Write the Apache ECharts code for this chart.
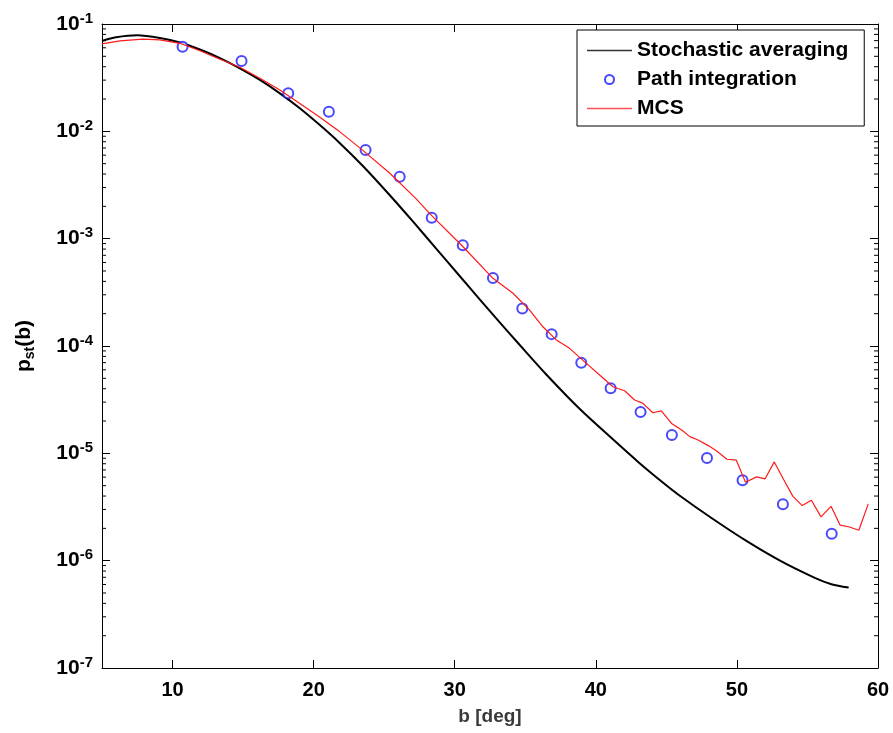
<!DOCTYPE html>
<html>
<head>
<meta charset="utf-8">
<script src="https://cdn.jsdelivr.net/npm/echarts@6/dist/echarts.min.js"></script>
<style>
  html, body { margin: 0; padding: 0; background: #fff; }
  #main { width: 893px; height: 733px; }
</style>
</head>
<body>
<div id="main"></div>
<script>
// stochastic averaging (black curve)
var saB = [5, 6, 7.5, 9.11, 10.52, 11.94, 13.36, 14.77, 16.19, 17.61, 19.02, 20.44, 21.86, 23.51, 25.4,
  27.05, 28.7, 30.35, 31.77, 33.19, 34.5, 36.49, 38.85, 41.21, 43, 44.75, 45.93, 48.33, 50.73, 53.12,
  55.52, 56.7, 57.92];
var saP = [0.0695, 0.0752, 0.0785, 0.0741, 0.0673, 0.0578, 0.0481, 0.0386, 0.0301, 0.0226, 0.0164,
  0.01143, 0.00776, 0.00473, 0.00254, 0.00144, 0.000804, 0.000449, 0.000272, 0.000166, 0.000106,
  5.43e-5, 2.60e-5, 1.35e-5, 8.32e-6, 5.35e-6, 4.05e-6, 2.43e-6, 1.51e-6, 9.89e-7, 6.92e-7, 6.04e-7, 5.62e-7];

// path integration (blue circles)
var piB = [10.71, 14.89, 18.2, 21.08, 23.68, 26.1, 28.37, 30.57, 32.71, 34.79, 36.87, 38.97, 41.05, 43.17,
  45.39, 47.88, 50.4, 53.26, 56.72];
var piP = [0.0615, 0.0452, 0.0226, 0.0152, 0.0067, 0.00378, 0.00157, 0.000867, 0.00043, 2.24e-4, 1.29e-4,
  6.98e-5, 4.04e-5, 2.43e-5, 1.48e-5, 9.06e-6, 5.61e-6, 3.36e-6, 1.78e-6];

// MCS (red line)
var mcsB = [5, 6.27, 7.9, 9.11, 10.52, 11.94, 13.36, 14.77, 16.19, 17.61, 19.02, 20.44, 21.86, 23.51, 25.4,
  27.2, 28.37, 30.59, 32.71, 34.13, 35.31, 36.25, 37.2, 38.14, 39.33, 40.27, 41.21, 42.04, 42.75, 43.34,
  44.04, 44.64, 45.37, 46.11, 46.66, 47.25, 47.97, 48.57, 49.29, 49.96, 50.61, 51.4, 52.0, 52.65, 53.31,
  53.97, 54.63, 55.28, 55.96, 56.67, 57.32, 57.97, 58.64, 59.31];
var mcsP = [0.0652, 0.0695, 0.0724, 0.071, 0.0661, 0.0564, 0.0469, 0.0395, 0.0312, 0.0243, 0.0182, 0.0135,
  0.00989, 0.00661, 0.00407, 0.0024, 0.00164, 0.000841, 0.000427, 3.10e-4, 2.16e-4, 1.51e-4, 1.14e-4,
  9.51e-5, 6.89e-5, 5.36e-5, 4.17e-5, 3.83e-5, 3.14e-5, 2.92e-5, 2.39e-5, 2.49e-5, 1.90e-5, 1.64e-5,
  1.43e-5, 1.33e-5, 1.18e-5, 1.05e-5, 8.81e-6, 8.63e-6, 5.38e-6, 6.04e-6, 5.79e-6, 8.32e-6, 5.70e-6,
  3.97e-6, 3.26e-6, 3.66e-6, 2.56e-6, 3.21e-6, 2.14e-6, 2.06e-6, 1.92e-6, 3.38e-6];

// axes
var xMin = 5, xMax = 60;
var yMin = 1e-7, yMax = 1e-1;
var minorMults = [2, 3, 4, 5, 6, 7, 8, 9];
var decades = [-7, -6, -5, -4, -3, -2];

function zip(a, b) {
  var out = [];
  for (var i = 0; i < a.length; i++) out.push([a[i], b[i]]);
  return out;
}

var minorTicks = [];
decades.forEach(function (d) {
  minorMults.forEach(function (m) {
    minorTicks.push([xMin, m * Math.pow(10, d)]);
  });
});

var FONT = '"Liberation Sans", Arial, Helvetica, sans-serif';
var LINE_ICON = 'path://M0,0 L45,0 L45,1.3 L0,1.3 Z';

var chart = echarts.init(document.getElementById('main'), null, { renderer: 'canvas' });

var yLabel = {
  fontFamily: FONT,
  fontWeight: 'bold',
  color: '#000',
  margin: 9,
  formatter: function (v) {
    var e = Math.round(Math.log10(v));
    return '{b|10}{e|' + e + '}';
  },
  rich: {
    b: { fontFamily: FONT, fontWeight: 'bold', fontSize: 21, color: '#000', lineHeight: 26 },
    e: { fontFamily: FONT, fontWeight: 'bold', fontSize: 15, color: '#000', verticalAlign: 'top', lineHeight: 17 }
  }
};

var option = {
  animation: false,
  backgroundColor: '#fff',
  grid: { left: 102, right: 15, top: 24, bottom: 65 },
  legend: {
    orient: 'vertical',
    left: 577,
    top: 30,
    padding: [9, 16, 6, 10],
    itemGap: 6,
    itemWidth: 45,
    itemHeight: 9,
    borderColor: '#000',
    borderWidth: 1,
    borderRadius: 0,
    backgroundColor: '#fff',
    data: [
      { name: 'Stochastic averaging', icon: LINE_ICON, itemStyle: { color: '#333' } },
      { name: 'Path integration' },
      { name: 'MCS', icon: LINE_ICON, itemStyle: { color: '#ff5050' } }
    ],
    textStyle: { fontFamily: FONT, fontWeight: 'bold', fontSize: 21, color: '#000', lineHeight: 23 }
  },
  xAxis: [{
    type: 'value',
    min: xMin,
    max: xMax,
    splitNumber: 6,
    name: 'b [deg]',
    nameLocation: 'middle',
    nameGap: 39,
    nameTextStyle: { fontFamily: FONT, fontWeight: 'bold', fontSize: 19, color: '#3a3a3a' },
    axisLine: { lineStyle: { color: '#000', width: 1 } },
    axisTick: { inside: true, length: 8, lineStyle: { color: '#000' } },
    axisLabel: { showMinLabel: false, fontFamily: FONT, fontWeight: 'bold', fontSize: 20, color: '#000', margin: 12 },
    splitLine: { show: false }
  }, {
    type: 'value',
    position: 'top',
    min: xMin,
    max: xMax,
    splitNumber: 6,
    axisLine: { lineStyle: { color: '#000', width: 1 } },
    axisTick: { inside: true, length: 8, lineStyle: { color: '#000' } },
    axisLabel: { show: false },
    splitLine: { show: false }
  }],
  yAxis: [{
    type: 'log',
    min: yMin,
    max: yMax,
    logBase: 10,
    name: '{p|p}{s|st}{p|(b)}',
    nameLocation: 'middle',
    nameRotate: 90,
    nameGap: 65,
    nameTextStyle: {
      rich: {
        p: { fontFamily: FONT, fontWeight: 'bold', fontSize: 21, color: '#000', lineHeight: 26 },
        s: { fontFamily: FONT, fontWeight: 'bold', fontSize: 14, color: '#000', verticalAlign: 'bottom', lineHeight: 16 }
      }
    },
    axisLine: { lineStyle: { color: '#000', width: 1 } },
    axisTick: { inside: true, length: 8, lineStyle: { color: '#000' } },
    axisLabel: yLabel,
    splitLine: { show: false }
  }, {
    type: 'log',
    position: 'right',
    min: yMin,
    max: yMax,
    logBase: 10,
    axisLine: { lineStyle: { color: '#000', width: 1 } },
    axisTick: { inside: true, length: 8, lineStyle: { color: '#000' } },
    axisLabel: { show: false },
    splitLine: { show: false }
  }],
  series: [{
    name: 'Stochastic averaging',
    type: 'line',
    data: zip(saB, saP),
    symbol: 'none',
    smooth: 0.3,
    lineStyle: { color: '#000', width: 2 },
    itemStyle: { color: '#000' },
    z: 3
  }, {
    name: 'Path integration',
    type: 'scatter',
    data: zip(piB, piP),
    symbol: 'emptyCircle',
    symbolSize: 10,
    itemStyle: { color: '#1a1aff', borderColor: '#1a1aff', borderWidth: 1.5 },
    z: 4
  }, {
    name: 'MCS',
    type: 'line',
    data: zip(mcsB, mcsP),
    symbol: 'none',
    lineStyle: { color: '#ff1a1a', width: 1.2 },
    itemStyle: { color: '#ff1a1a' },
    z: 5
  }, {
    // minor log ticks on the left and right edges
    name: 'minor',
    type: 'custom',
    silent: true,
    data: minorTicks,
    renderItem: function (params, api) {
      var p = api.coord([xMin, api.value(1)]);
      var q = api.coord([xMax, api.value(1)]);
      var st = { stroke: '#000', lineWidth: 1 };
      return {
        type: 'group',
        children: [
          { type: 'line', shape: { x1: p[0], y1: p[1], x2: p[0] + 4, y2: p[1] }, style: st },
          { type: 'line', shape: { x1: q[0] - 4, y1: q[1], x2: q[0], y2: q[1] }, style: st }
        ]
      };
    },
    z: 2
  }]
};

chart.setOption(option);
</script>
</body>
</html>
